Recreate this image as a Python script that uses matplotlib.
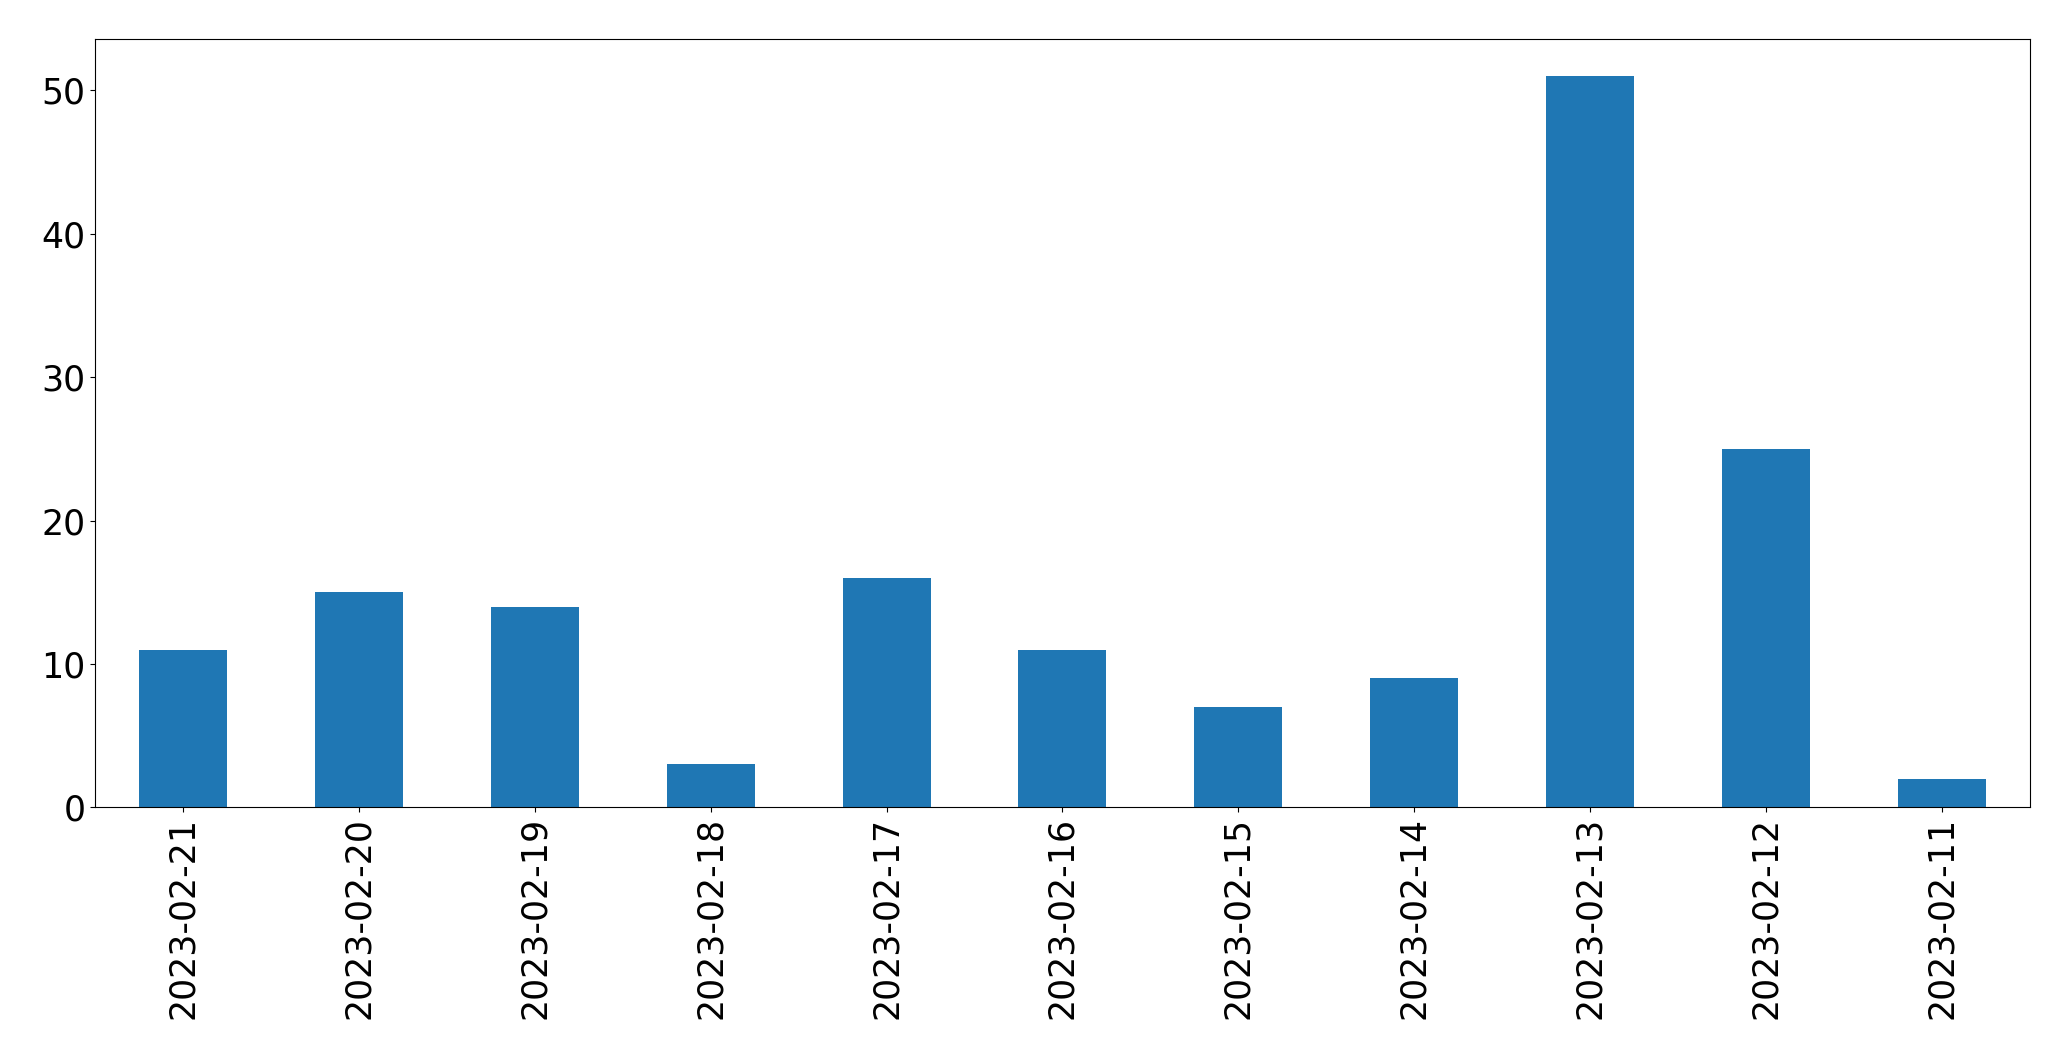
import matplotlib
matplotlib.use("Agg")
import matplotlib.pyplot as plt
import numpy as np

dates = ["2023-02-21", "2023-02-20", "2023-02-19", "2023-02-18", "2023-02-17",
         "2023-02-16", "2023-02-15", "2023-02-14", "2023-02-13", "2023-02-12",
         "2023-02-11"]
counts = [11, 15, 14, 3, 16, 11, 7, 9, 51, 25, 2]

fig = plt.figure(figsize=(20.71, 10.61), dpi=100)
ax = fig.add_axes([0.046, 0.239, 0.934, 0.724])

x = np.arange(len(dates))
ax.bar(x, counts, width=0.5, color="#1f77b4")
ax.set_xlim(-0.5, len(dates) - 0.5)
ax.set_xticks(x)
ax.set_xticklabels(dates, rotation=90)
ax.tick_params(labelsize=25)

plt.savefig("out.png")
